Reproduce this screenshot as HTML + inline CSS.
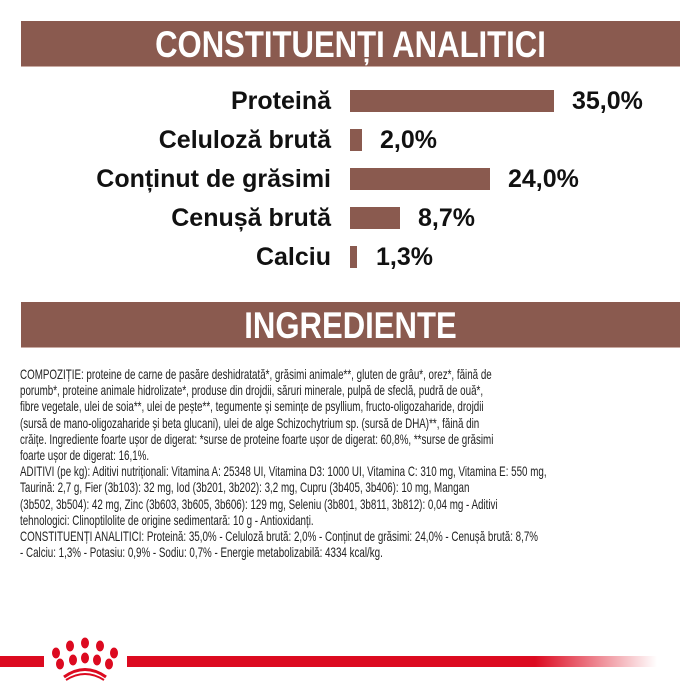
<!DOCTYPE html>
<html><head><meta charset="utf-8"><style>
body{margin:0;width:700px;height:700px;background:#fff;position:relative;overflow:hidden;font-family:"Liberation Sans Narrow","Liberation Sans",sans-serif}
.hdr{position:absolute;left:21px;width:659px;height:45px;background:#8a5a4f;border-bottom:1px solid #c9aaa2}
.hdr span{display:block;color:#fff;font-weight:bold;font-size:37px;text-align:center;line-height:47px;transform:scaleX(0.84)}
.lab{position:absolute;right:369px;font-size:25px;font-weight:bold;color:#111;line-height:22px;font-family:"Liberation Sans",sans-serif}
.bar{position:absolute;left:350px;height:22px;background:#8a5a4f}
.val{position:absolute;font-size:25px;font-weight:bold;color:#111;line-height:22px;font-family:"Liberation Sans",sans-serif}
.txt{position:absolute;left:20px;top:366px;font-size:14px;line-height:16.2px;color:#222;white-space:nowrap;transform:scaleX(0.70);transform-origin:0 0}
</style></head><body>
<div class="hdr" style="top:21px"><span>CONSTITUENȚI ANALITICI</span></div>
<div class="lab" style="top:90px">Proteină</div><div class="bar" style="top:90px;width:204px"></div><div class="val" style="top:90px;left:572px">35,0%</div>
<div class="lab" style="top:129px">Celuloză brută</div><div class="bar" style="top:129px;width:12px"></div><div class="val" style="top:129px;left:380px">2,0%</div>
<div class="lab" style="top:168px">Conținut de grăsimi</div><div class="bar" style="top:168px;width:140px"></div><div class="val" style="top:168px;left:508px">24,0%</div>
<div class="lab" style="top:207px">Cenușă brută</div><div class="bar" style="top:207px;width:50px"></div><div class="val" style="top:207px;left:418px">8,7%</div>
<div class="lab" style="top:246px">Calciu</div><div class="bar" style="top:246px;width:7px"></div><div class="val" style="top:246px;left:376px">1,3%</div>
<div class="hdr" style="top:302px"><span>INGREDIENTE</span></div>
<div class="txt">COMPOZIȚIE: proteine de carne de pasăre deshidratată*, grăsimi animale**, gluten de grâu*, orez*, făină de<br>porumb*, proteine animale hidrolizate*, produse din drojdii, săruri minerale, pulpă de sfeclă, pudră de ouă*,<br>fibre vegetale, ulei de soia**, ulei de pește**, tegumente și semințe de psyllium, fructo-oligozaharide, drojdii<br>(sursă de mano-oligozaharide și beta glucani), ulei de alge Schizochytrium sp. (sursă de DHA)**, făină din<br>crăițe. Ingrediente foarte ușor de digerat: *surse de proteine foarte ușor de digerat: 60,8%, **surse de grăsimi<br>foarte ușor de digerat: 16,1%.<br>ADITIVI (pe kg): Aditivi nutriționali: Vitamina A: 25348 UI, Vitamina D3: 1000 UI, Vitamina C: 310 mg, Vitamina E: 550 mg,<br>Taurină: 2,7 g, Fier (3b103): 32 mg, Iod (3b201, 3b202): 3,2 mg, Cupru (3b405, 3b406): 10 mg, Mangan<br>(3b502, 3b504): 42 mg, Zinc (3b603, 3b605, 3b606): 129 mg, Seleniu (3b801, 3b811, 3b812): 0,04 mg - Aditivi<br>tehnologici: Clinoptilolite de origine sedimentară: 10 g - Antioxidanți.<br>CONSTITUENȚI ANALITICI: Proteină: 35,0% - Celuloză brută: 2,0% - Conținut de grăsimi: 24,0% - Cenușă brută: 8,7%<br>- Calciu: 1,3% - Potasiu: 0,9% - Sodiu: 0,7% - Energie metabolizabilă: 4334 kcal/kg.</div>
<div style="position:absolute;left:0;top:656px;width:44px;height:11px;background:#dc0a20"></div>
<div style="position:absolute;left:127px;top:656px;width:530px;height:11px;background:linear-gradient(to right,#dc0a20 0,#dc0a20 77%,rgba(220,10,32,0) 100%)"></div>
<svg style="position:absolute;left:40px;top:636px" width="86" height="46" viewBox="40 636 86 46">
<g fill="#dc0a20">
<ellipse cx="56" cy="653" rx="4" ry="5.5"/><ellipse cx="70" cy="646" rx="4" ry="5.5"/><ellipse cx="85" cy="643" rx="4" ry="5.5"/><ellipse cx="100" cy="646" rx="4" ry="5.5"/><ellipse cx="114" cy="653" rx="4" ry="5.5"/>
<ellipse cx="60" cy="664" rx="4" ry="5.5"/><ellipse cx="73" cy="660" rx="4" ry="5.5"/><ellipse cx="85" cy="658" rx="4" ry="5.5"/><ellipse cx="97" cy="660" rx="4" ry="5.5"/><ellipse cx="109" cy="664" rx="4" ry="5.5"/>
</g>
<path d="M64 677 Q85 662 106 677" stroke="#dc0a20" stroke-width="3" fill="none"/>
<path d="M66 680 Q85 668 104 680" stroke="#dc0a20" stroke-width="2" fill="none"/>
</svg>
</body></html>
